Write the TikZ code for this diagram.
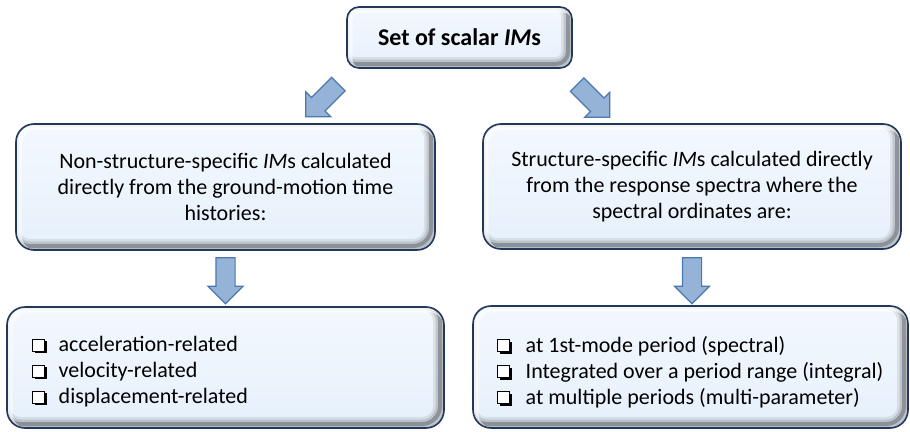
\documentclass[tikz,border=0pt]{standalone}
\usepackage{fontspec}
\setmainfont{Carlito}
\usetikzlibrary{shapes.arrows}

\definecolor{boxline}{HTML}{22385A}
\definecolor{boxfill}{HTML}{E6F0FB}
\definecolor{boxtop}{HTML}{F3F8FE}
\definecolor{arrowfill}{HTML}{95B3D7}
\definecolor{arrowline}{HTML}{4A78B0}

% small shadowed check box used as list bullet
\newcommand\tickbox{\tikz[x=1pt,y=1pt,baseline=-0.5pt]{%
  \fill[black] (2,-2) rectangle (14,10);
  \draw[line width=1pt,fill=white] (0,0) rectangle (12,12);}}

\begin{document}
\begin{tikzpicture}[x=1pt,y=-1pt,
  panel/.style={rectangle, rounded corners=#1, draw=boxline, line width=1.6pt,
    top color=boxtop, bottom color=boxfill, inner sep=0pt, align=center,
    path picture={
      \foreach \w/\o in {14/0.08, 9/0.12, 4/0.25}
        \draw[rounded corners=#1, line width=\w pt, black, opacity=\o]
          ([shift={(-4pt,4pt)}]path picture bounding box.south west) rectangle
          ([shift={(-4pt,4pt)}]path picture bounding box.north east);
      \draw[rounded corners=#1, line width=5pt, white, opacity=0.6]
          ([shift={(3pt,-3pt)}]path picture bounding box.south west) rectangle
          ([shift={(3pt,-3pt)}]path picture bounding box.north east);
    }},
  blockarrow/.style={single arrow, draw=arrowline, fill=arrowfill, line width=1.2pt,
    inner sep=9pt, single arrow head extend=8pt, single arrow head indent=0pt,
    minimum width=34pt, minimum height=46pt},
  bodytext/.style={font=\fontsize{22}{26}\selectfont},
  listtext/.style={font=\fontsize{22}{26}\selectfont, align=left, inner sep=0pt, anchor=west}
]
\useasboundingbox (0,0) rectangle (910,431);

% top box
\node[panel=12pt, minimum width=225pt, minimum height=61pt,
      font=\bfseries\fontsize{24}{28}\selectfont] (top) at (459.5,37.5)
      {Set of scalar \textit{IM}s};

% second level
\node[panel=18pt, bodytext, minimum width=419pt, minimum height=126pt] (midL) at (225.5,187)
  {Non-structure-specific \textit{IM}s calculated\\directly from the ground-motion time\\histories:};
\node[panel=18pt, bodytext, minimum width=418pt, minimum height=125pt] (midR) at (692,186.5)
  {Structure-specific \textit{IM}s calculated directly\\from the response spectra where the\\spectral ordinates are:};

% third level
\node[panel=18pt, minimum width=437pt, minimum height=121pt] (botL) at (225.5,367.5) {};
\node[panel=18pt, minimum width=435pt, minimum height=122pt] (botR) at (690.5,367) {};

\node[listtext] (listL) at (32,372)
  {\tickbox\hspace{12pt}acceleration-related\\
   \tickbox\hspace{12pt}velocity-related\\
   \tickbox\hspace{12pt}displacement-related};
\node[listtext] (listR) at (497,372)
  {\tickbox\hspace{14pt}at 1st-mode period (spectral)\\
   \tickbox\hspace{14pt}Integrated over a period range (integral)\\
   \tickbox\hspace{14pt}at multiple periods (multi-parameter)};

% block arrows between levels
\node[blockarrow, rotate=-135] (aTL) at (325.5,97) {};
\node[blockarrow, rotate=-45]  (aTR) at (590,97.5) {};
\node[blockarrow, rotate=-90]  (aL)  at (225.5,276) {};
\node[blockarrow, rotate=-90]  (aR)  at (692,276) {};
\end{tikzpicture}
\end{document}
